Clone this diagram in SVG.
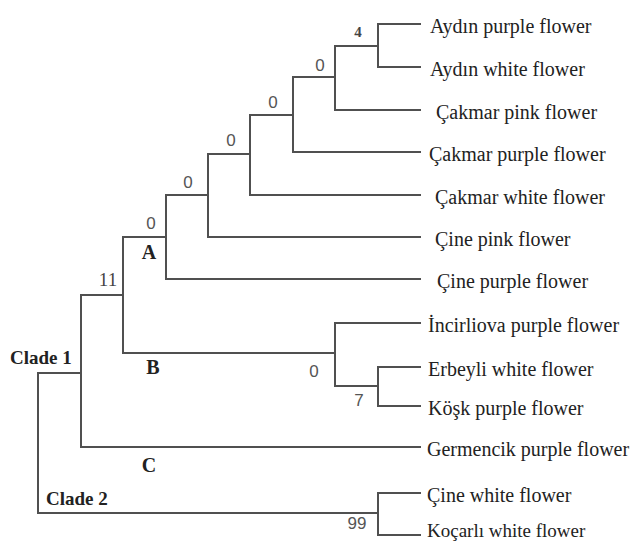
<svg xmlns="http://www.w3.org/2000/svg" width="632" height="542" viewBox="0 0 632 542">
<style>
.br{fill:none;stroke:#505050;stroke-width:2;stroke-linecap:square}
.lf{font-family:"Liberation Serif","Times New Roman",serif;font-size:20px;fill:#222}
.bs{font-family:"Liberation Sans",Arial,sans-serif;font-size:17px;fill:#555;text-anchor:middle}
.bsr{font-family:"Liberation Serif",serif;font-size:19px;fill:#444;text-anchor:middle}
.cl{font-family:"Liberation Serif","Times New Roman",serif;font-weight:bold;font-size:20px;fill:#222}
</style>
<rect width="632" height="542" fill="#fff"/>
<g id="connectors">
<path class="br" d="M38,373 V513 H378"/>
<path class="br" d="M38,373 H81"/>
<path class="br" d="M123,295 H81 V447 H420"/>
<path class="br" d="M166,237 H123 V353 H335"/>
<path class="br" d="M208,195 H166 V279 H420"/>
<path class="br" d="M250,154 H208 V237 H420"/>
<path class="br" d="M293,115 H250 V195 H420"/>
<path class="br" d="M335,77 H293 V152 H420"/>
<path class="br" d="M378,46 H335 V110 H420"/>
<path class="br" d="M420,24 H378 V67 H420"/>
<path class="br" d="M420,323 H335 V386 H378"/>
<path class="br" d="M420,367 H378 V406 H420"/>
<path class="br" d="M420,493 H378 V535 H420"/>
</g>
<g id="leaf-aydin-purple"><text class="lf" x="430" y="33">Aydın purple flower</text></g>
<g id="leaf-aydin-white"><text class="lf" x="430" y="76">Aydın white flower</text></g>
<g id="leaf-cakmar-pink"><text class="lf" x="436" y="119">Çakmar pink flower</text></g>
<g id="leaf-cakmar-purple"><text class="lf" x="429" y="161">Çakmar purple flower</text></g>
<g id="leaf-cakmar-white"><text class="lf" x="435" y="204">Çakmar white flower</text></g>
<g id="leaf-cine-pink"><text class="lf" x="435" y="246">Çine pink flower</text></g>
<g id="leaf-cine-purple"><text class="lf" x="437" y="288">Çine purple flower</text></g>
<g id="leaf-incirliova"><text class="lf" x="428" y="332">İncirliova purple flower</text></g>
<g id="leaf-erbeyli"><text class="lf" x="428" y="376">Erbeyli white flower</text></g>
<g id="leaf-kosk"><text class="lf" x="428" y="415">Köşk purple flower</text></g>
<g id="leaf-germencik"><text class="lf" x="427" y="456">Germencik purple flower</text></g>
<g id="leaf-cine-white"><text class="lf" x="427" y="502">Çine white flower</text></g>
<g id="leaf-kocarli"><text class="lf" x="427" y="537" style="font-size:19px">Koçarlı white flower</text></g>
<g id="node-n1"><text x="358" y="37" style="font-family:'Liberation Serif',serif;font-weight:bold;font-size:15px;fill:#444;text-anchor:middle">4</text></g>
<g id="node-n2"><text class="bs" x="320" y="71">0</text></g>
<g id="node-n3"><text class="bs" x="273" y="108">0</text></g>
<g id="node-n4"><text class="bs" x="231" y="146">0</text></g>
<g id="node-n5"><text class="bs" x="188" y="188">0</text></g>
<g id="node-A"><text class="bs" x="151" y="229">0</text><text class="cl" x="149" y="259" text-anchor="middle">A</text></g>
<g id="node-n7"><text class="bsr" x="108" y="286">11</text></g>
<g id="node-B"><text class="bs" x="314" y="377">0</text><text class="cl" x="153" y="374" text-anchor="middle">B</text></g>
<g id="node-n9"><text class="bs" x="359" y="406">7</text></g>
<g id="node-C"><text class="cl" x="149" y="472" text-anchor="middle">C</text></g>
<g id="node-clade1"><text class="cl" x="10" y="364" style="font-size:19px">Clade 1</text></g>
<g id="node-clade2"><text class="cl" x="46" y="505" style="font-size:19px">Clade 2</text><text class="bs" x="357" y="529">99</text></g>
</svg>
